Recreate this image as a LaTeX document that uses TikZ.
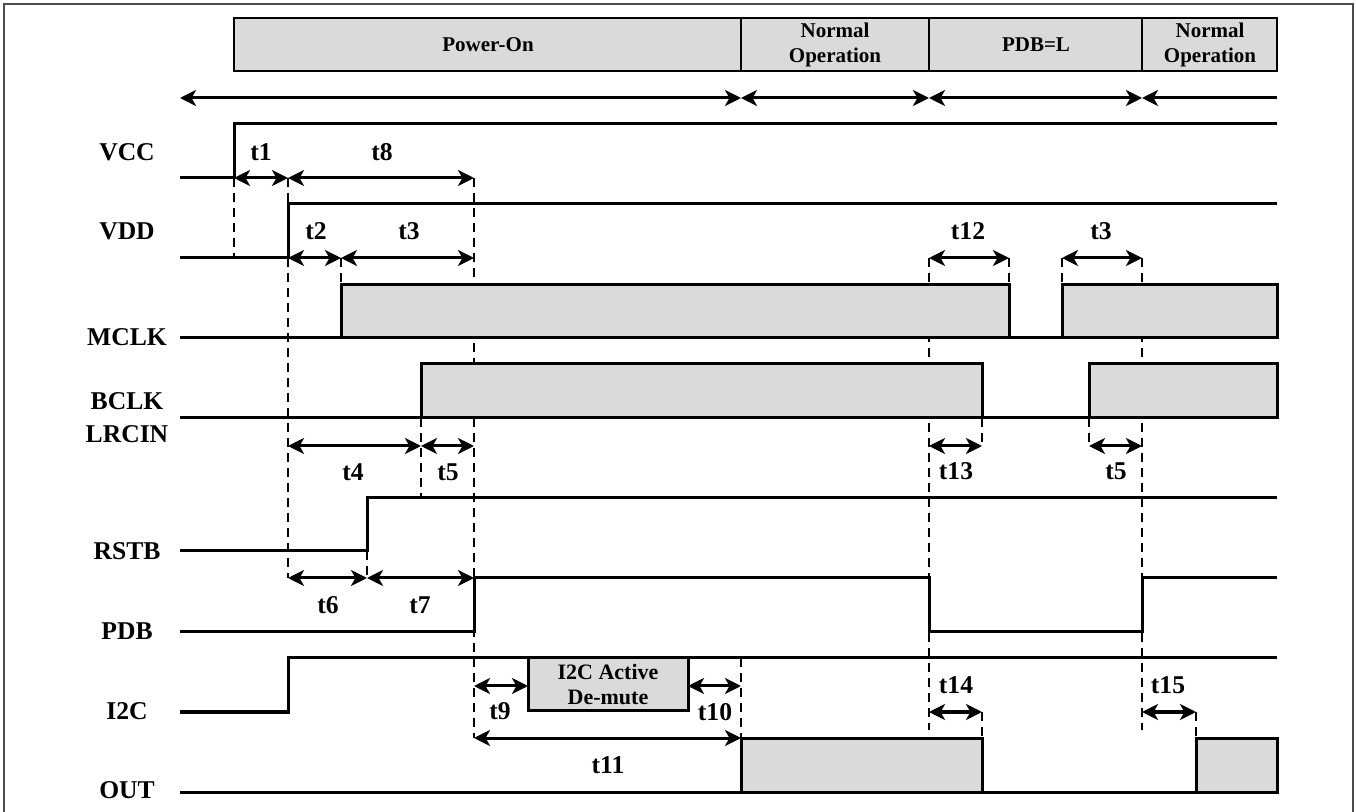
\documentclass[tikz,border=0pt]{standalone}
\usepackage{fontspec}
\setmainfont{Liberation Serif}
\usepackage{xcolor}
\usepackage{tikz}
\usetikzlibrary{arrows.meta}
\definecolor{boxgray}{RGB}{218,218,218}
\tikzset{every node/.append style={font=\bfseries}}

\begin{document}
\begin{tikzpicture}[x=0.5pt, y=-0.5pt, >={Stealth[length=8pt,width=8pt,inset=2.2pt]},
    sig/.style={line width=1.5pt},
    dim/.style={<->, line width=1.5pt},
    guide/.style={line width=1.3pt, dash pattern=on 4.5pt off 3pt},
    busy/.style={fill=boxgray, line width=1.5pt},
    signame/.style={font=\fontsize{12.8}{14}\selectfont\bfseries},
    tlabel/.style={font=\fontsize{12.8}{14}\selectfont\bfseries},
    phase/.style={font=\fontsize{10.5}{12.5}\selectfont\bfseries, align=center}]
    \useasboundingbox (0,0) rectangle (1356,812);
    \draw[line width=1pt, gray!60!black] (4,812) -- (4,4) -- (1353,4) -- (1353,812);

    % phases
    \draw[busy, line width=1.3pt] (234,18) rectangle (1277,71);
    \foreach \x in {741,929,1142} \draw[line width=1.3pt] (\x,18) -- (\x,71);
    \node[phase] (pon) at (488,45) {Power-On};
    \node[phase] (nop1) at (835,45) {Normal\\Operation};
    \node[phase] (pdbl) at (1036,45) {PDB=L};
    \node[phase] (nop2) at (1210,45) {Normal\\Operation};
    \draw[dim] (180,98) -- (741,98);
    \draw[dim] (741,98) -- (929,98);
    \draw[dim] (929,98) -- (1142,98);
    \draw[<-, line width=1.5pt] (1142,98) -- (1277,98);

    % guides
    \draw[guide] (234,178) -- (234,258);
    \draw[guide] (288,178) -- (288,204);
    \draw[guide] (288,258) -- (288,578);
    \draw[guide] (474,178) -- (474,738);
    \draw[guide] (341,258) -- (341,285);
    \draw[guide] (421,418) -- (421,498);
    \draw[guide] (367,551) -- (367,578);
    \draw[guide] (741,658) -- (741,738);
    \draw[guide] (929,258) -- (929,730);
    \draw[guide] (1142,258) -- (1142,730);
    \draw[guide] (1009,258) -- (1009,285);
    \draw[guide] (1062,258) -- (1062,285);
    \draw[guide] (982,418) -- (982,446);
    \draw[guide] (1089,418) -- (1089,446);
    \draw[guide] (982,712) -- (982,738);
    \draw[guide] (1196,712) -- (1196,738);

    % signal names
    \foreach \n/\y in {VCC/152, VDD/231, MCLK/337, BCLK/401, LRCIN/434, RSTB/551, PDB/631, I2C/711, OUT/790}
        \node[signame] (\n) at (127,\y) {\n};

    % VCC, VDD
    \draw[sig] (180,178) -- (234,178) -- (234,124) -- (1277,124);
    \draw[sig] (180,258) -- (288,258) -- (288,204) -- (1277,204);
    \draw[dim] (234,178) -- (288,178);
    \draw[dim] (288,178) -- (474,178);
    \node[tlabel] (t1) at (261,152) {t1};
    \node[tlabel] (t8) at (382,152) {t8};
    \draw[dim] (288,258) -- (341,258);
    \draw[dim] (341,258) -- (474,258);
    \draw[dim] (929,258) -- (1009,258);
    \draw[dim] (1062,258) -- (1142,258);
    \node[tlabel] (t2) at (316,231) {t2};
    \node[tlabel] (t3a) at (409,231) {t3};
    \node[tlabel] (t12) at (968,231) {t12};
    \node[tlabel] (t3b) at (1101,231) {t3};

    % MCLK, BCLK
    \draw[busy] (341,338) rectangle (1009,285);
    \draw[busy] (1062,338) rectangle (1277,285);
    \draw[sig] (180,338) -- (1277,338);
    \draw[busy] (421,418) rectangle (982,364);
    \draw[busy] (1089,418) rectangle (1277,364);
    \draw[sig] (180,418) -- (1277,418);
    \draw[dim] (288,446) -- (421,446);
    \draw[dim] (421,446) -- (474,446);
    \draw[dim] (929,446) -- (982,446);
    \draw[dim] (1089,446) -- (1142,446);
    \node[tlabel] (t4) at (353,472) {t4};
    \node[tlabel] (t5a) at (448,472) {t5};
    \node[tlabel] (t13) at (956,471) {t13};
    \node[tlabel] (t5b) at (1116,471) {t5};

    % RSTB, PDB
    \draw[sig] (180,551) -- (367,551) -- (367,498) -- (1277,498);
    \draw[dim] (288,578) -- (367,578);
    \draw[dim] (367,578) -- (474,578);
    \node[tlabel] (t6) at (328,605) {t6};
    \node[tlabel] (t7) at (420,605) {t7};
    \draw[sig] (180,632) -- (474,632) -- (474,578) -- (929,578) -- (929,632)
        -- (1142,632) -- (1142,578) -- (1277,578);

    % I2C, OUT
    \draw[sig] (180,712) -- (288,712) -- (288,658) -- (1277,658);
    \draw[busy] (528,658) rectangle (688,711);
    \node[font=\fontsize{11}{12.5}\selectfont\bfseries, align=center] (dmute) at (608,685) {I2C Active\\De-mute};
    \draw[dim] (474,686) -- (528,686);
    \draw[dim] (688,686) -- (741,686);
    \node[tlabel] (t9) at (500,711) {t9};
    \node[tlabel] (t10) at (715,712) {t10};
    \draw[dim] (474,738) -- (741,738);
    \node[tlabel] (t11) at (608,765) {t11};
    \draw[dim] (929,712) -- (982,712);
    \draw[dim] (1142,712) -- (1196,712);
    \node[tlabel] (t14) at (956,685) {t14};
    \node[tlabel] (t15) at (1168,685) {t15};
    \draw[busy] (741,792) rectangle (982,738);
    \draw[busy] (1196,792) rectangle (1277,738);
    \draw[sig] (180,792) -- (1277,792);
\end{tikzpicture}
\end{document}
